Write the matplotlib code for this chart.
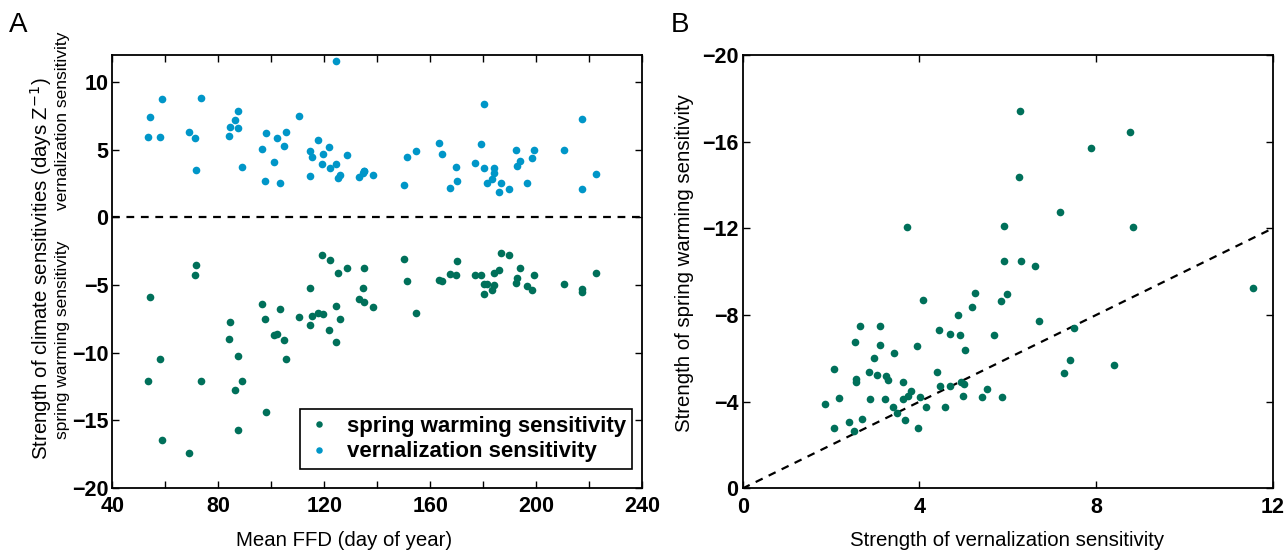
import matplotlib
matplotlib.use("Agg")
import matplotlib.pyplot as plt
from matplotlib.ticker import FixedLocator

plt.rcParams['font.family'] = ['Liberation Sans', 'DejaVu Sans']

# ---------------- data (one entry per species) ----------------
ffd = [53.6, 54.2, 58.1, 58.7, 69.1, 71.2, 71.7, 73.4, 84.1, 84.4,
       86.5, 87.4, 87.4, 89.0, 96.4, 97.8, 98.2, 101.1, 102.3, 103.4,
       104.9, 105.6, 110.4, 114.6, 114.8, 115.4, 117.7, 119.1, 119.5, 122.0,
       122.1, 124.5, 124.5, 125.2, 126.0, 128.6, 133.3, 134.6, 134.9, 135.1,
       138.3, 150.2, 151.1, 154.6, 163.4, 164.6, 167.6, 169.8, 170.2, 176.8,
       179.3, 180.2, 180.2, 181.6, 183.3, 184.1, 184.1, 186.1, 186.8, 189.9,
       192.4, 192.8, 194.1, 196.6, 198.3, 199.4, 210.5, 217.2, 217.2, 222.5]

vernalization = [5.91, 7.41, 5.91, 8.77, 6.28, 5.88, 3.50, 8.84, 5.99, 6.70,
                 7.19, 7.88, 6.62, 3.72, 5.03, 2.66, 6.25, 4.09, 5.84, 2.54,
                 5.25, 6.31, 7.51, 4.88, 3.03, 4.44, 5.69, 3.96, 4.70, 5.20,
                 3.67, 11.55, 3.94, 2.89, 3.11, 4.58, 2.98, 3.25, 3.40, 3.42,
                 3.11, 2.41, 4.46, 4.92, 5.52, 4.70, 2.19, 3.74, 2.71, 4.02,
                 5.42, 8.40, 3.62, 2.56, 2.86, 3.62, 3.30, 1.87, 2.52, 2.07,
                 5.00, 3.82, 4.14, 2.56, 4.41, 4.98, 4.95, 7.27, 2.07, 3.22]

spring_warming = [-12.11, -5.91, -10.49, -16.45, -17.43, -4.24, -3.50, -12.07, -8.97, -7.71,
                  -12.76, -15.73, -10.27, -12.07, -6.38, -7.49, -14.36, -8.69, -8.64, -6.77,
                  -9.04, -10.49, -7.38, -7.98, -5.24, -7.31, -7.07, -2.78, -7.12, -8.35,
                  -3.15, -9.23, -6.57, -4.11, -7.51, -3.76, -6.01, -5.20, -3.74, -6.25,
                  -6.62, -3.08, -4.72, -7.09, -4.61, -4.72, -4.16, -4.28, -3.22, -4.24,
                  -4.24, -5.69, -4.90, -4.90, -5.35, -4.13, -4.98, -3.91, -2.66, -2.80,
                  -4.83, -4.50, -3.74, -5.05, -5.37, -4.26, -4.90, -5.32, -5.49, -4.11]

series_labels = ["spring warming sensitivity", "vernalization sensitivity"]

A_xticks_major = [40, 80, 120, 160, 200, 240]
A_xticks_minor = [60, 100, 140, 180, 220]
A_yticks = [-20, -15, -10, -5, 0, 5, 10]
B_xticks = [0, 4, 8, 12]
B_yticks = [0, -4, -8, -12, -16, -20]

GREEN = '#00705A'
BLUE = '#0096C8'

W, H = 1286, 553
fig = plt.figure(figsize=(W / 100, H / 100), dpi=100)


def rect(x0, y0, x1, y1):
    return [x0 / W, 1 - y1 / H, (x1 - x0) / W, (y1 - y0) / H]


def fmt(v):
    return f"{v:g}".replace('-', '\u2212')


TICK_FS = 15.5


def style(ax):
    for s in ax.spines.values():
        s.set_linewidth(1.3)
        s.set_color('black')
    ax.tick_params(which='both', direction='in', length=5, width=1.0,
                   top=True, right=True, labelsize=TICK_FS, pad=3, colors='black')
    ax.tick_params(axis='x', which='both', pad=6)


# ---------------- Panel A ----------------
axA = fig.add_axes(rect(112.3, 55, 642, 488))
style(axA)
axA.axhline(0, color='black', lw=1.6, ls=(0, (3.5, 3)), zorder=1)
axA.plot(ffd, spring_warming, 'o', color=GREEN, ms=5.5, mew=0,
         label=series_labels[0], zorder=3)
axA.plot(ffd, vernalization, 'o', color=BLUE, ms=5.5, mew=0,
         label=series_labels[1], zorder=3)
axA.set_xlim(40, 240)
axA.set_ylim(-20, 12)
axA.set_xticks(A_xticks_major, labels=[fmt(v) for v in A_xticks_major],
               fontweight='bold', fontsize=TICK_FS)
axA.xaxis.set_minor_locator(FixedLocator(A_xticks_minor))
axA.set_yticks(A_yticks, labels=[fmt(v) for v in A_yticks],
               fontweight='bold', fontsize=TICK_FS)
leg = axA.legend(loc='lower right', bbox_to_anchor=(0.982, 0.044),
                 borderaxespad=0, fancybox=False, framealpha=1,
                 edgecolor='black', markerscale=0.85, handlelength=1.1,
                 handletextpad=0.7, borderpad=0.3, labelspacing=0.2,
                 prop={'weight': 'bold', 'size': 16})
leg.get_frame().set_linewidth(1.2)

# ---------------- Panel B ----------------
axB = fig.add_axes(rect(742.7, 55, 1272.7, 488.4))
style(axB)
axB.set_xlim(0, 12)
axB.set_ylim(0, -20)
xs = [B_xticks[0], B_xticks[-1]]
axB.plot(xs, [-v for v in xs], color='black', lw=1.6, ls=(0, (3.5, 3)), zorder=1)
axB.plot(vernalization, spring_warming, 'o', color=GREEN, ms=5.5, mew=0, zorder=3)
axB.set_xticks(B_xticks, labels=[fmt(v) for v in B_xticks],
               fontweight='bold', fontsize=TICK_FS)
axB.set_yticks(B_yticks, labels=[fmt(v) for v in B_yticks],
               fontweight='bold', fontsize=TICK_FS)

# ---------------- labels ----------------
def ft(x, y, s, **kw):
    fig.text(x / W, 1 - y / H, s, **kw)

LAB_FS = 14.7
ft(18, 25, 'A', fontsize=20, ha='center', va='center')
ft(680, 25, 'B', fontsize=20, ha='center', va='center')
ft(41, 269, 'Strength of climate sensitivities (days Z$^{-1}$)', fontsize=LAB_FS,
   rotation=90, ha='center', va='center')
ft(63, 121, 'vernalization sensitivity', fontsize=12.5, rotation=90,
   ha='center', va='center')
ft(63, 340, 'spring warming sensitivity', fontsize=12.5, rotation=90,
   ha='center', va='center')
ft(344, 541, 'Mean FFD (day of year)', fontsize=LAB_FS, ha='center', va='center')
ft(1007, 541, 'Strength of vernalization sensitivity', fontsize=LAB_FS,
   ha='center', va='center')
ft(684, 263, 'Strength of spring warming sensitivity', fontsize=LAB_FS,
   rotation=90, ha='center', va='center')

fig.savefig('out.png', dpi=100)
